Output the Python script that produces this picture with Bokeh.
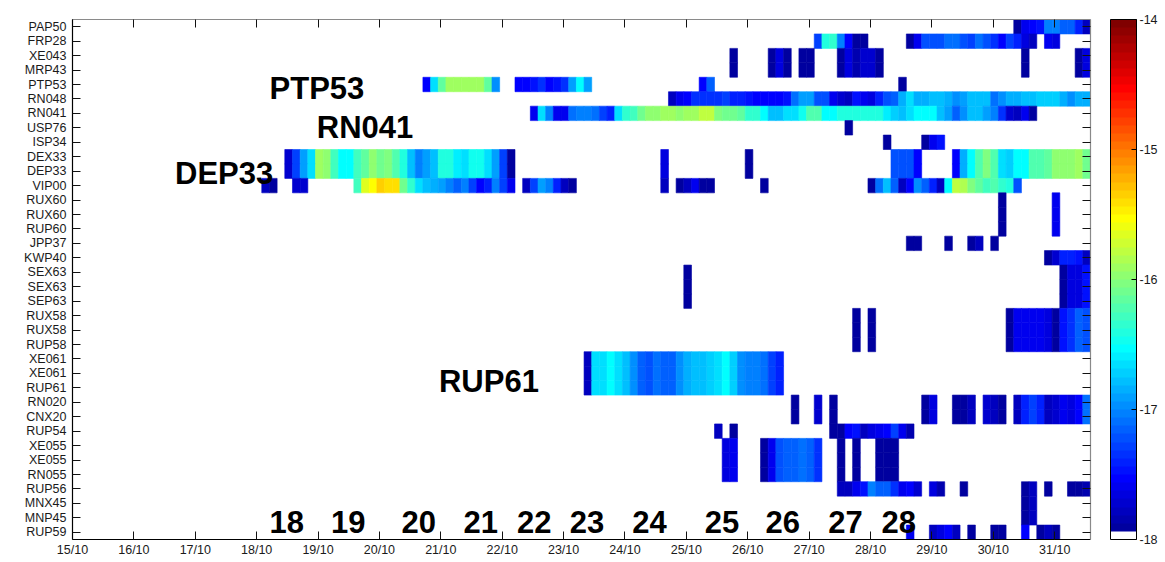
import numpy as np
from bokeh.plotting import figure
from bokeh.models import (ColumnDataSource, LinearColorMapper, ColorBar, FixedTicker,
                          LinearAxis)
from bokeh.transform import transform
from bokeh.core.properties import value
from bokeh.embed import file_html
from bokeh.resources import INLINE

# ---------------- data ----------------
stations = ["PAP50", "FRP28", "XE043", "MRP43", "PTP53", "RN048", "RN041", "USP76",
            "ISP34", "DEX33", "DEP33", "VIP00", "RUX60", "RUX60", "RUP60", "JPP37",
            "KWP40", "SEX63", "SEX63", "SEP63", "RUX58", "RUX58", "RUP58", "XE061",
            "XE061", "RUP61", "RN020", "CNX20", "RUP54", "XE055", "XE055", "RN055",
            "RUP56", "MNX45", "MNP45", "RUP59"]

day_ticks = list(range(15, 32))
day_labels = [f"{d}/10" for d in day_ticks]

# 3-hourly bins; bin k starts at 15/10 + (2 + 3k) hours
bin_first_hour = 2
bin_hours = 3

# log10 values, as (first bin, [values of consecutive bins])
seg_PAP50 = [(122, [-17.91, -17.59, -17.53, -17.47, -17.03, -17.03, -17.16, -17.16, -17.41, -17.78])]
seg_FRP28 = [(96, [-17.28, -16.41, -16.34, -17.03, -17.53, -17.91, -17.91]),
             (108, [-17.91, -17.59, -17.22, -17.22, -17.22, -17.09, -17.09, -17.22, -17.28,
                    -17.09, -17.22, -17.34, -17.53, -17.28, -17.41, -17.66, -17.78]),
             (126, [-17.59, -17.66])]
seg_XE043 = [(85, [-17.91]), (90, [-17.91, -17.66, -17.91]), (94, [-17.91, -17.91]),
             (99, [-17.91, -17.66, -17.84, -17.72, -17.72, -17.91]), (123, [-17.91]),
             (130, [-17.91, -17.66])]
seg_PTP53 = [(45, [-17.53, -16.66, -16.16, -15.91, -15.91, -15.91, -15.91, -15.91, -16.16, -16.97]),
             (57, [-17.53, -17.53, -17.47, -17.34, -17.53, -17.47, -17.34, -16.91, -16.53, -16.91]),
             (81, [-17.53, -17.16]), (107, [-17.91])]
seg_RN048 = [(77, [-17.78, -17.59, -17.53, -17.34, -17.34, -17.34, -17.34, -17.28, -17.41, -17.41,
                   -17.47, -17.53, -17.53, -17.53, -17.53, -17.47, -17.09, -16.91, -16.91, -17.22,
                   -17.22, -17.59, -17.72, -17.78, -17.47, -17.59, -17.66, -17.41, -17.22, -17.16,
                   -16.84, -16.66, -16.84, -16.84, -16.78, -16.78, -16.84, -16.97, -16.91, -16.78,
                   -16.78, -16.78, -17.09, -16.97, -16.84, -16.84, -16.78, -16.78, -16.72, -16.72,
                   -16.72, -16.84, -16.97, -16.84, -16.84])]
seg_RN041 = [(59, [-17.59, -16.66, -17.03, -17.59, -17.59, -17.09, -17.03, -17.03, -17.09, -17.28,
                   -17.41, -16.66, -16.34, -16.28, -16.09, -15.97, -15.97, -15.91, -15.91, -15.97,
                   -15.91, -15.91, -15.78, -15.78, -16.03, -16.09, -16.09, -16.16, -16.34, -16.34,
                   -16.53, -16.78, -16.78, -16.66, -16.66, -16.47, -16.22, -16.22, -16.53, -16.53,
                   -16.41, -16.41, -16.41, -16.41, -16.41, -16.41, -16.59, -16.72, -16.78, -16.66,
                   -16.53, -16.53, -16.53, -16.78, -16.91, -17.16, -16.97, -16.78, -16.78, -16.91,
                   -17.03, -17.34, -17.72, -17.78, -17.59, -17.91])]
seg_USP76 = [(100, [-17.91])]
seg_ISP34 = [(105, [-17.91]), (110, [-17.91, -17.59, -17.47])]
seg_DEP33 = [(27, [-17.72, -17.28, -16.91, -16.66, -15.91, -15.97, -16.28, -16.53, -16.53, -16.28,
                   -16.16, -15.97, -16.09, -16.03, -16.22, -16.41, -16.78, -17.03, -16.91, -16.78,
                   -16.41, -16.41, -16.59, -16.66, -16.47, -16.47, -16.66, -16.91, -17.28, -17.91]),
             (76, [-17.66]), (87, [-17.91]), (106, [-17.22, -17.22, -17.22, -17.53]),
             (114, [-17.53, -16.84, -16.53, -16.22, -16.03, -16.22, -16.66, -16.72, -16.53, -16.53,
                    -16.22, -16.22, -16.16, -15.97, -15.97, -15.97, -15.91, -16.09])]
seg_VIP00 = [(24, [-17.78, -17.91]), (28, [-17.72, -17.72]),
             (36, [-16.28, -15.66, -15.53, -15.34, -15.41, -15.41, -16.09, -16.34, -16.66, -16.78,
                   -16.84, -16.91, -17.03, -17.16, -17.03, -17.28, -17.53, -17.41, -17.03, -17.28,
                   -17.59]),
             (58, [-17.78, -17.28, -16.91, -17.03, -17.41, -17.78, -17.91]),
             (76, [-17.78]), (78, [-17.91, -17.78, -17.59, -17.91, -17.91]), (89, [-17.91]),
             (103, [-17.91, -17.09, -16.78, -17.16, -17.78, -17.53, -16.97, -17.16, -17.41, -17.78,
                    -16.53, -15.78, -15.84, -16.03, -16.16, -16.28, -16.22, -16.34, -16.41, -17.22])]
seg_RUX60 = [(120, [-17.91]), (127, [-17.59])]
seg_JPP37 = [(108, [-17.91, -17.91]), (113, [-17.91]), (116, [-17.91, -17.78]), (119, [-17.91])]
seg_KWP40 = [(126, [-17.91, -17.72, -17.41, -17.41, -17.47, -17.78])]
seg_SEX63 = [(79, [-17.91]), (128, [-17.91, -17.66, -17.66, -17.47])]
seg_RUX58 = [(101, [-17.91]), (103, [-17.91]),
             (121, [-17.91, -17.59, -17.59, -17.59, -17.59, -17.66, -17.91, -17.47, -17.34, -17.16,
                    -17.22])]
seg_RUP61 = [(66, [-17.78, -16.66, -16.66, -16.53, -16.66, -16.78, -16.97, -17.16, -17.22, -17.09,
                   -17.16, -17.16, -16.97, -16.84, -16.78, -16.78, -16.72, -16.66, -16.53, -16.72,
                   -16.97, -17.03, -17.03, -17.09, -17.28, -17.41])]
seg_RN020 = [(93, [-17.91]), (96, [-17.72]), (98, [-17.91]), (110, [-17.91, -17.66]),
             (114, [-17.91, -17.91, -17.78]), (118, [-17.72, -17.78, -17.91]),
             (122, [-17.78, -17.41, -17.28, -17.41, -17.78, -17.72, -17.59, -17.66, -17.53, -17.09])]
seg_RUP54 = [(83, [-17.78]), (85, [-17.91]),
             (98, [-17.91, -17.91, -17.53, -17.47, -17.78, -17.66, -17.59, -17.53, -17.28, -17.59,
                   -17.84])]
seg_XE055 = [(84, [-17.66, -17.59]), (89, [-17.91, -17.59, -17.22, -17.16, -17.16, -17.09, -17.16, -17.34]),
             (99, [-17.91]), (101, [-17.91]), (104, [-17.91, -17.91, -17.91])]
seg_RUP56 = [(99, [-17.78, -17.78, -17.59, -17.47, -17.03, -17.16, -17.16, -17.34, -17.59, -17.53,
                   -17.72]),
             (111, [-17.66, -17.84]), (115, [-17.91]), (123, [-17.91, -17.78]), (126, [-17.91]),
             (129, [-17.91, -17.91, -17.84])]
seg_MNX45 = [(123, [-17.91, -17.78])]
seg_RUP59 = [(108, [-17.59]), (111, [-17.78, -17.66, -17.53, -17.78]), (116, [-17.91]),
             (119, [-17.91, -17.91]), (123, [-17.53]), (125, [-17.91, -17.78, -17.91])]

row_segments = [seg_PAP50, seg_FRP28, seg_XE043, seg_XE043, seg_PTP53, seg_RN048, seg_RN041,
                seg_USP76, seg_ISP34, seg_DEP33, seg_DEP33, seg_VIP00, seg_RUX60, seg_RUX60,
                seg_RUX60, seg_JPP37, seg_KWP40, seg_SEX63, seg_SEX63, seg_SEX63, seg_RUX58,
                seg_RUX58, seg_RUX58, seg_RUP61, seg_RUP61, seg_RUP61, seg_RN020, seg_RN020,
                seg_RUP54, seg_XE055, seg_XE055, seg_XE055, seg_RUP56, seg_MNX45, seg_MNX45,
                seg_RUP59]

annotations = [("PTP53", 18.21, 5.30), ("RN041", 18.98, 7.96), ("DEP33", 16.67, 11.18),
               ("RUP61", 20.97, 25.56),
               ("18", 18.21, 35.30), ("19", 19.21, 35.30), ("20", 20.36, 35.30),
               ("21", 21.37, 35.30), ("22", 22.24, 35.30), ("23", 23.10, 35.30),
               ("24", 24.12, 35.30), ("25", 25.30, 35.30), ("26", 26.29, 35.30),
               ("27", 27.31, 35.30), ("28", 28.18, 35.30)]

# ---------------- build ----------------
def matlab_jet(m=64):
    n = int(np.ceil(m / 4))
    u = np.concatenate([np.arange(1, n + 1) / n, np.ones(n - 1), np.arange(n, 0, -1) / n])
    g = int(np.ceil(n / 2)) - (1 if m % 4 == 1 else 0) + np.arange(1, len(u) + 1)
    J = np.zeros((m, 3))
    for col, idx in ((0, g + n), (1, g), (2, g - n)):
        ok = (idx >= 1) & (idx <= m)
        J[idx[ok] - 1, col] = u[ok]
    return ["#%02x%02x%02x" % tuple(int(round(255 * c)) for c in rgb) for rgb in J]

palette = matlab_jet(64)
palette[0] = "#ffffff"
mapper = LinearColorMapper(palette=palette, low=-18, high=-14)

left, right, top, bottom, vals = [], [], [], [], []
for r, segs in enumerate(row_segments):
    for k0, vs in segs:
        for j, v in enumerate(vs):
            k = k0 + j
            x0 = 15 + (bin_first_hour + bin_hours * k) / 24.0
            left.append(x0)
            right.append(x0 + bin_hours / 24.0)
            top.append(r + 0.5)
            bottom.append(r + 1.5)
            vals.append(v)
src = ColumnDataSource(dict(left=left, right=right, top=top, bottom=bottom, v=vals))

x_end = 15 + (bin_first_hour + bin_hours * 132) / 24.0
p = figure(frame_width=1018, frame_height=520, x_range=(15, x_end), y_range=(36.5, 0.5),
           output_backend="svg", toolbar_location=None, min_border_left=72,
           min_border_top=19, min_border_bottom=22, min_border_right=0)
p.background_fill_color = "white"
p.border_fill_color = "white"
p.outline_line_color = None
p.xgrid.visible = False
p.ygrid.visible = False

p.quad(left="left", right="right", top="top", bottom="bottom", source=src,
       fill_color=transform("v", mapper), line_color=transform("v", mapper), line_width=0.6)

bold_font = value("Liberation Sans")
p.text(x=[a[1] for a in annotations], y=[a[2] for a in annotations],
       text=[a[0] for a in annotations], text_font=bold_font, text_font_style="bold",
       text_font_size="31px", text_align="left", text_baseline="alphabetic", text_color="black")

lab_font = "Liberation Sans"

def style_axis(ax, color, labels=True):
    ax.axis_line_color = color
    ax.axis_line_width = 1.2
    ax.major_tick_line_color = "#111111"
    ax.major_tick_in = 8
    ax.major_tick_out = 0
    ax.minor_tick_line_color = None
    ax.major_label_text_font = lab_font
    ax.major_label_text_font_size = "12.5px" if labels else "0px"
    ax.major_label_text_color = "#1a1a1a"

xt = FixedTicker(ticks=day_ticks)
yt = FixedTicker(ticks=list(range(1, 37)))
xb = p.xaxis[0]
xb.ticker = xt
xb.major_label_overrides = {d: l for d, l in zip(day_ticks, day_labels)}
style_axis(xb, "black")
xb.major_label_standoff = 3
yl = p.yaxis[0]
yl.ticker = yt
yl.major_label_overrides = {i + 1: s for i, s in enumerate(stations)}
style_axis(yl, "black")
yl.major_label_standoff = 6

xa = LinearAxis(ticker=xt, major_label_standoff=0)
style_axis(xa, "#8a8a8a", labels=False)
xa.major_label_overrides = {d: "" for d in day_ticks}
p.add_layout(xa, "above")
yr = LinearAxis(ticker=yt, major_label_standoff=0)
style_axis(yr, "#8a8a8a", labels=False)
yr.major_label_overrides = {i + 1: "" for i in range(36)}
p.add_layout(yr, "right")

cb = ColorBar(color_mapper=mapper, ticker=FixedTicker(ticks=[-18, -17, -16, -15, -14]),
              major_label_overrides={-18: "-18", -17: "-17", -16: "-16", -15: "-15", -14: "-14"},
              width=26, height=520, padding=0, margin=0, label_standoff=3,
              major_tick_in=5, major_tick_out=0, major_tick_line_color="black",
              bar_line_color="black", bar_line_width=1, location=(20, 0),
              major_label_text_font=lab_font, major_label_text_font_size="12.5px",
              major_label_text_color="#1a1a1a")
p.add_layout(cb, "right")

open("out.html", "w").write(file_html(p, INLINE))
